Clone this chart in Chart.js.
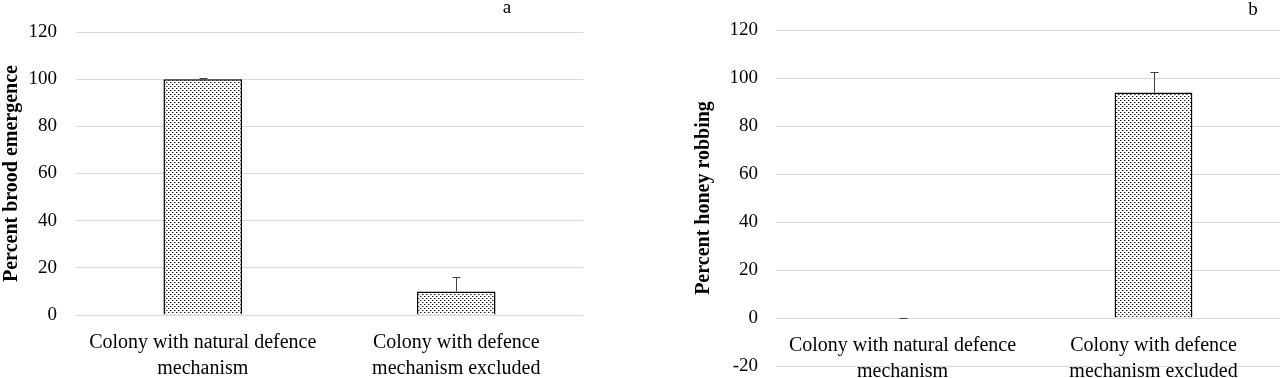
<!DOCTYPE html>
<html>
<head>
<meta charset="utf-8">
<script src="https://cdn.jsdelivr.net/npm/chart.js@4.4.1/dist/chart.umd.min.js"></script>
<style>
  html, body { margin: 0; padding: 0; background: #fff; }
  .panel { position: absolute; top: 0; width: 640px; height: 378px; }
</style>
</head>
<body>
<div class="panel" style="left:0"><canvas id="chartA"></canvas></div>
<div class="panel" style="left:640px"><canvas id="chartB"></canvas></div>
<script>
'use strict';

// Data
const categories = [
  ['Colony with natural defence', 'mechanism'],
  ['Colony with defence', 'mechanism excluded'],
];
const broodValues = [100, 10];
const broodErrors = [0.4, 6.2];
const robbingValues = [0, 94];
const robbingErrors = [0, 8.6];

const FONT = "'Liberation Serif', 'Times New Roman', serif";
const GRID = '#d9d9d9';

// Excel-like dotted fill
function dotPattern() {
  const c = document.createElement('canvas');
  c.width = 4;
  c.height = 4;
  const g = c.getContext('2d');
  g.fillStyle = '#fff';
  g.fillRect(0, 0, 4, 4);
  g.fillStyle = '#1a1a1a';
  g.fillRect(0, 0, 1, 1);
  g.fillRect(2, 2, 1, 1);
  g.fillStyle = '#9a9a9a';
  g.fillRect(1, 0, 1, 1);
  g.fillRect(3, 2, 1, 1);
  return g.createPattern(c, 'repeat');
}

// Plus-only error bars, like the Excel original
const errorBars = {
  id: 'errorBars',
  afterDatasetsDraw(chart, args, opts) {
    const { ctx, scales: { y } } = chart;
    const ds = chart.data.datasets[0];
    const meta = chart.getDatasetMeta(0);
    ctx.save();
    ctx.strokeStyle = opts.color;
    ctx.lineWidth = 1;
    meta.data.forEach((bar, i) => {
      const x = Math.round(bar.x) + 0.5;
      const base = Math.round(y.getPixelForValue(ds.data[i])) + 0.5;
      const top = Math.round(y.getPixelForValue(ds.data[i] + ds.errors[i])) + 0.5;
      ctx.beginPath();
      ctx.moveTo(x, base);
      ctx.lineTo(x, top);
      ctx.moveTo(x - opts.cap, top);
      ctx.lineTo(x + opts.cap, top);
      ctx.stroke();
    });
    ctx.restore();
  },
};

// Panel letter (a / b)
const panelLetter = {
  id: 'panelLetter',
  afterDraw(chart, args, opts) {
    const ctx = chart.ctx;
    ctx.save();
    ctx.font = `19px ${FONT}`;
    ctx.fillStyle = '#000';
    ctx.textAlign = 'center';
    ctx.textBaseline = 'middle';
    ctx.fillText(opts.text, opts.x, opts.y);
    ctx.restore();
  },
};

function makeChart(canvas, cfg) {
  return new Chart(canvas, {
    type: 'bar',
    data: {
      labels: categories,
      datasets: [{
        data: cfg.values,
        errors: cfg.errors,
        backgroundColor: dotPattern(),
        borderColor: '#000',
        borderWidth: 1.5,
        barPercentage: 0.31,
        categoryPercentage: 1,
      }],
    },
    options: {
      responsive: true,
      maintainAspectRatio: false,
      animation: false,
      layout: { padding: cfg.padding },
      plugins: {
        legend: { display: false },
        tooltip: { enabled: false },
        errorBars: { color: '#404040', cap: 4 },
        panelLetter: cfg.letter,
      },
      scales: {
        x: {
          position: cfg.xPosition,
          grid: { display: false },
          border: { display: false },
          ticks: {
            padding: 7,
            color: '#000',
            maxRotation: 0,
            autoSkip: false,
            font: { family: FONT, size: 20, lineHeight: 1.3 },
          },
          afterFit(scale) {
            scale.height = cfg.xHeight;
          },
        },
        y: {
          min: cfg.min,
          max: 120,
          // invisible tick marks keep the labels away from the grid
          // without inflating the axis' vertical padding
          grid: { color: GRID, lineWidth: 1, drawTicks: true, tickLength: 19, tickColor: 'rgba(0,0,0,0)' },
          border: { display: false },
          ticks: {
            stepSize: 20,
            padding: 0,
            color: '#000',
            font: { family: FONT, size: 19 },
          },
          title: {
            display: true,
            text: cfg.yTitle,
            color: '#000',
            padding: { top: cfg.titlePad, bottom: 0 },
            font: { family: FONT, size: 20, weight: 'bold' },
          },
          afterFit(scale) {
            scale.width = cfg.yWidth;
          },
        },
      },
    },
    plugins: [errorBars, panelLetter],
  });
}

makeChart(document.getElementById('chartA'), {
  values: broodValues,
  errors: broodErrors,
  min: 0,
  yTitle: 'Percent brood emergence',
  titlePad: 0,
  yWidth: 76,
  xHeight: 63,
  xPosition: 'bottom',
  padding: { top: 32, right: 57, bottom: 0, left: 0 },
  letter: { text: 'a', x: 507, y: 8 },
});

makeChart(document.getElementById('chartB'), {
  values: robbingValues,
  errors: robbingErrors,
  min: -20,
  yTitle: 'Percent honey robbing',
  titlePad: 52,
  yWidth: 137,
  xHeight: 0,
  xPosition: { y: 0 },
  padding: { top: 30, right: 1, bottom: 12, left: 0 },
  letter: { text: 'b', x: 613, y: 10 },
});
</script>
</body>
</html>
